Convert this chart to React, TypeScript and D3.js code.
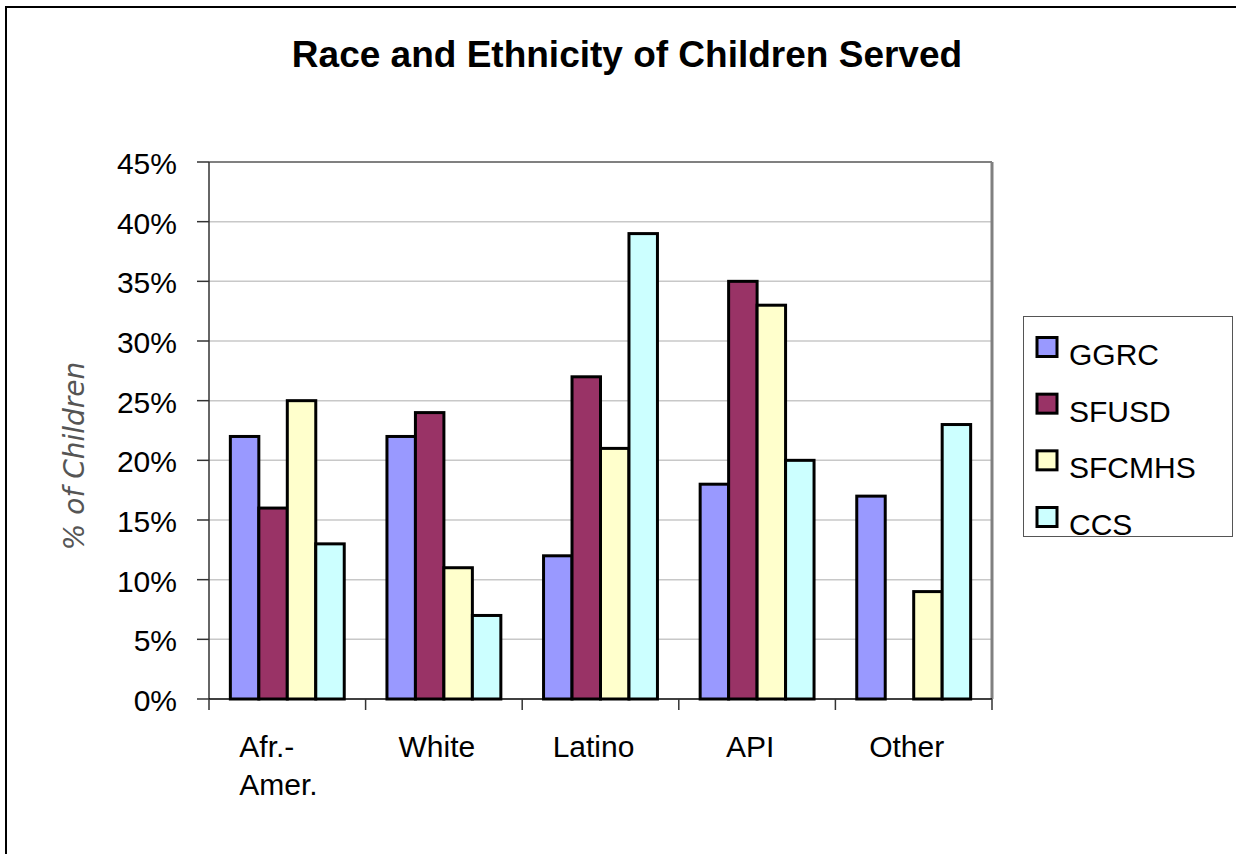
import React from "react";
import * as d3 from "d3";

const categories = ["Afr.-\nAmer.", "White", "Latino", "API", "Other"];
const seriesNames = ["GGRC", "SFUSD", "SFCMHS", "CCS"];
const ggrc = [22, 22, 12, 18, 17];
const sfusd = [16, 24, 27, 35, null];
const sfcmhs = [25, 11, 21, 33, 9];
const ccs = [13, 7, 39, 20, 23];
const seriesValues = [ggrc, sfusd, sfcmhs, ccs];
const colors = ["#9999FF", "#993366", "#FFFFCC", "#CCFFFF"];
const yTicks = [0, 5, 10, 15, 20, 25, 30, 35, 40, 45];

const W = 1236;
const H = 854;
const plot = { left: 209, right: 992, top: 162, bottom: 699 };
const FONT = "'Liberation Sans', Arial, sans-serif";

export default function App() {
  const x = d3
    .scaleBand<string>()
    .domain(categories)
    .range([plot.left, plot.right])
    .paddingInner(0)
    .paddingOuter(0);
  const y = d3.scaleLinear().domain([0, 45]).range([plot.bottom, plot.top]);
  const bw = x.bandwidth();
  const gapFrac = 1.5;
  const barW = bw / (seriesNames.length + gapFrac);
  const inner = d3
    .scaleBand<number>()
    .domain(d3.range(seriesNames.length))
    .range([(bw - barW * seriesNames.length) / 2, (bw + barW * seriesNames.length) / 2])
    .padding(0);

  const legendRowY = d3.scalePoint<string>().domain(seriesNames).range([347, 517]);

  return (
    <svg
      width={W}
      height={H}
      style={{ position: "absolute", left: 0, top: 0, background: "#fff" }}
      fontFamily={FONT}
    >
      <rect x={0} y={0} width={W} height={H} fill="#fff" />
      <rect x={6} y={7} width={W + 50} height={H + 50} fill="none" stroke="#000" strokeWidth={2} />

      <text x={627} y={67} textAnchor="middle" fontSize={37} fontWeight="bold" fill="#000">
        Race and Ethnicity of Children Served
      </text>

      {/* gridlines */}
      {yTicks.slice(1, -1).map((t) => (
        <line key={t} x1={plot.left} x2={plot.right} y1={y(t)} y2={y(t)} stroke="#c8c8c8" strokeWidth={1.5} />
      ))}
      {/* plot border top & right */}
      <line x1={plot.left} x2={plot.right} y1={plot.top} y2={plot.top} stroke="#808080" strokeWidth={2} />
      <line x1={plot.right} x2={plot.right} y1={plot.top} y2={plot.bottom} stroke="#808080" strokeWidth={3} />

      {/* bars */}
      {categories.map((c, ci) =>
        seriesValues.map((vals, si) => {
          const v = vals[ci];
          if (v === null || v === undefined) return null;
          const bx = (x(c) ?? 0) + (inner(si) ?? 0);
          return (
            <rect
              key={c + si}
              x={bx}
              y={y(v)}
              width={inner.bandwidth()}
              height={y(0) - y(v)}
              fill={colors[si]}
              stroke="#000"
              strokeWidth={3}
            />
          );
        })
      )}

      {/* y axis */}
      <line x1={plot.left} x2={plot.left} y1={plot.top} y2={plot.bottom} stroke="#333" strokeWidth={1.5} />
      {yTicks.map((t) => (
        <g key={t}>
          <line x1={plot.left - 12} x2={plot.left} y1={y(t)} y2={y(t)} stroke="#333" strokeWidth={1.5} />
          <text x={177} y={y(t)} dy={12} textAnchor="end" fontSize={30} fill="#000">
            {t}%
          </text>
        </g>
      ))}

      {/* x axis */}
      <line x1={plot.left} x2={plot.right} y1={plot.bottom} y2={plot.bottom} stroke="#000" strokeWidth={1.5} />
      {[...categories.map((c) => x(c) ?? 0), plot.right].map((px, i) => (
        <line key={i} x1={px} x2={px} y1={plot.bottom} y2={plot.bottom + 11} stroke="#333" strokeWidth={1.5} />
      ))}
      {categories.map((c) => {
        const cx = (x(c) ?? 0) + bw / 2 - 7;
        const lines = c.split("\n");
        if (lines.length === 1) {
          return (
            <text key={c} x={cx} y={757} textAnchor="middle" fontSize={30} fill="#000">
              {c}
            </text>
          );
        }
        return (
          <text key={c} x={cx - 41} y={757} textAnchor="start" fontSize={30} fill="#000">
            {lines.map((l, i) => (
              <tspan key={i} x={cx - 41} dy={i === 0 ? 0 : 38}>
                {l}
              </tspan>
            ))}
          </text>
        );
      })}

      {/* y axis title */}
      <text
        transform={`translate(84, 456) rotate(-90)`}
        textAnchor="middle"
        fontSize={28}
        fontStyle="italic"
        fontFamily="'DejaVu Sans', sans-serif"
        fontWeight={300}
        fill="#555"
      >
        % of Children
      </text>

      {/* legend */}
      <rect x={1023.5} y={316.5} width={209} height={220} fill="#fff" stroke="#555" strokeWidth={1} />
      {seriesNames.map((s, i) => {
        const cy = legendRowY(s) ?? 0;
        return (
          <g key={s}>
            <rect x={1037} y={cy - 9.5} width={20} height={19} fill={colors[i]} stroke="#000" strokeWidth={3} />
            <text x={1069} y={cy + 18} fontSize={30} fill="#000">
              {s}
            </text>
          </g>
        );
      })}
    </svg>
  );
}
